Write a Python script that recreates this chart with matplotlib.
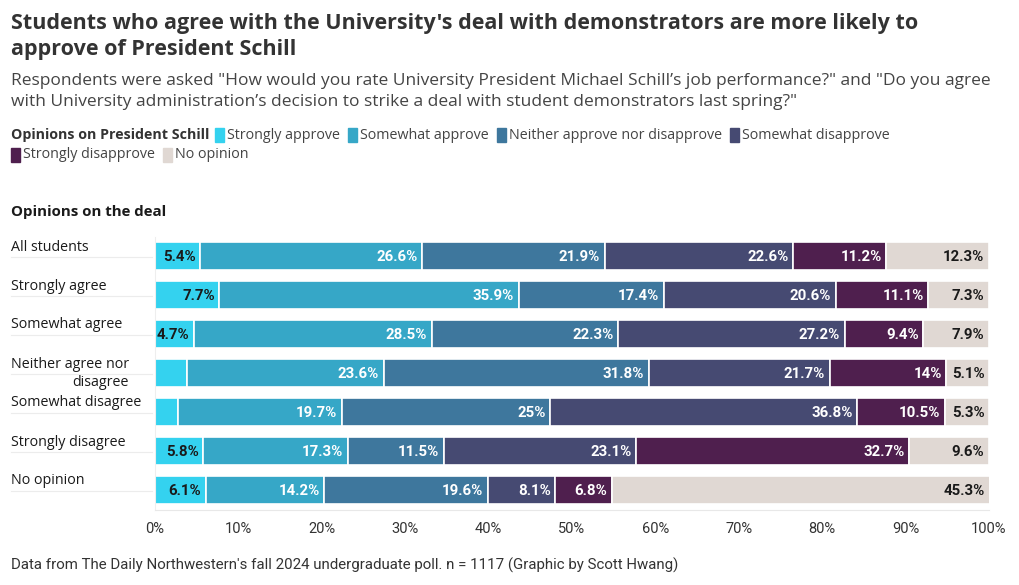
import matplotlib.pyplot as plt
import numpy as np

# ---- data ----
groups = ["All students", "Strongly agree", "Somewhat agree", "Neither agree nor\ndisagree",
          "Somewhat disagree", "Strongly disagree", "No opinion"]
series = ["Strongly approve", "Somewhat approve", "Neither approve nor disapprove",
          "Somewhat disapprove", "Strongly disapprove", "No opinion"]
strongly_approve = [5.4, 7.7, 4.7, 3.8, 2.7, 5.8, 6.1]
somewhat_approve = [26.6, 35.9, 28.5, 23.6, 19.7, 17.3, 14.2]
neither = [21.9, 17.4, 22.3, 31.8, 25.0, 11.5, 19.6]
somewhat_disapprove = [22.6, 20.6, 27.2, 21.7, 36.8, 23.1, 8.1]
strongly_disapprove = [11.2, 11.1, 9.4, 14.0, 10.5, 32.7, 6.8]
no_opinion = [12.3, 7.3, 7.9, 5.1, 5.3, 9.6, 45.3]
ticks = [0, 10, 20, 30, 40, 50, 60, 70, 80, 90, 100]

colors = ["#34d2ef", "#36a7c7", "#3e779d", "#464a72", "#4f1f4e", "#e0d8d3"]
text_colors = ["#1a1a1a", "white", "white", "white", "white", "#1a1a1a"]

FONT = ["Open Sans", "DejaVu Sans"]
NARROW = ["Roboto", "DejaVu Sans"]
plt.rcParams['font.family'] = FONT

W, H = 1020, 585
fig = plt.figure(figsize=(W / 100, H / 100), dpi=100)


def fx(px):
    return px / W


def fy(py):
    return 1 - py / H


# ---- titles ----
fig.text(fx(11), fy(23), "Students who agree with the University's deal with demonstrators are more likely to",
         fontsize=15.5, fontweight='bold', color='#333333', va='center')
fig.text(fx(11), fy(49), "approve of President Schill",
         fontsize=15.5, fontweight='bold', color='#333333', va='center')
fig.text(fx(11), fy(81), "Respondents were asked \"How would you rate University President Michael Schill\u2019s job performance?\" and \"Do you agree",
         fontsize=12.5, color='#444444', va='center')
fig.text(fx(11), fy(102), "with University administration\u2019s decision to strike a deal with student demonstrators last spring?\"",
         fontsize=12.5, color='#444444', va='center')

# ---- legend (manual, wraps on two lines) ----
leg_rows = [(135, [0, 1, 2, 3]), (155, [4, 5])]
r = fig.canvas.get_renderer()
x = 11
t = fig.text(fx(x), fy(135), "Opinions on President Schill", fontsize=10.3, fontweight='bold',
             color='#333333', va='center')
x_start_first = x + t.get_window_extent(r).width + 6
for row_y, idxs in leg_rows:
    x = x_start_first if row_y == 135 else 11
    for i in idxs:
        fig.patches.append(plt.Rectangle((fx(x), fy(row_y + 7)), fx(9), 14 / H,
                                         transform=fig.transFigure, color=colors[i], figure=fig))
        t = fig.text(fx(x + 12), fy(row_y), series[i], fontsize=10.3, color='#444444', va='center')
        x = x + 12 + t.get_window_extent(r).width + 8

fig.text(fx(11), fy(212), "Opinions on the deal", fontsize=10.8, fontweight='bold',
         color='#1a1a1a', va='center')

# ---- bars ----
ax = fig.add_axes([fx(155), fy(509.5), fx(989) - fx(155), 273 / H])
values = np.array([strongly_approve, somewhat_approve, neither,
                   somewhat_disapprove, strongly_disapprove, no_opinion])
y = np.arange(len(groups))
left = np.zeros(len(groups))
for k in range(len(series)):
    ax.barh(y, values[k], left=left, height=0.72, color=colors[k],
            edgecolor='white', linewidth=1.2)
    for j in range(len(groups)):
        v = values[k][j]
        if v >= 4.5:
            lab = f"{v:g}%"
            ax.text(left[j] + v - 0.55, y[j] + 0.03, lab, ha='right', va='center',
                    fontsize=10.8, fontweight='bold', color=text_colors[k], family=NARROW)
    left += values[k]

ax.set_xlim(0, 100)
ax.set_ylim(len(groups) - 0.5, -0.5)
ax.set_yticks([])
ax.set_xticks(ticks)
ax.set_xticklabels([f"{t}%" for t in ticks], family=NARROW, fontsize=10.5, color='#333333')
ax.tick_params(axis='x', length=0, pad=9)
for s in ['top', 'right']:
    ax.spines[s].set_visible(False)
ax.spines['left'].set_color('#eeeeee')
ax.spines['left'].set_linewidth(0.8)
ax.spines['bottom'].set_color('#e8e8e8')
ax.spines['bottom'].set_linewidth(0.8)

# group labels with separator lines
for j, g in enumerate(groups):
    yc = 256 + 39 * j
    if "\n" in g:
        fig.text(fx(11), fy(yc - 16), g, fontsize=10.3, color='#1a1a1a', va='top',
                 ha='left', multialignment='right', linespacing=1.3)
    else:
        fig.text(fx(11), fy(yc - 9), g, fontsize=10.3, color='#1a1a1a', va='center')
    fig.add_artist(plt.Line2D([fx(11), fx(152)], [fy(yc + 1), fy(yc + 1)],
                              color='#ececec', linewidth=0.8))

fig.text(fx(11), fy(565), "Data from The Daily Northwestern's fall 2024 undergraduate poll. n = 1117 (Graphic by Scott Hwang)",
         family=NARROW, fontsize=10.8, color='#333333', va='center')

fig.savefig("out.png", dpi=100)
